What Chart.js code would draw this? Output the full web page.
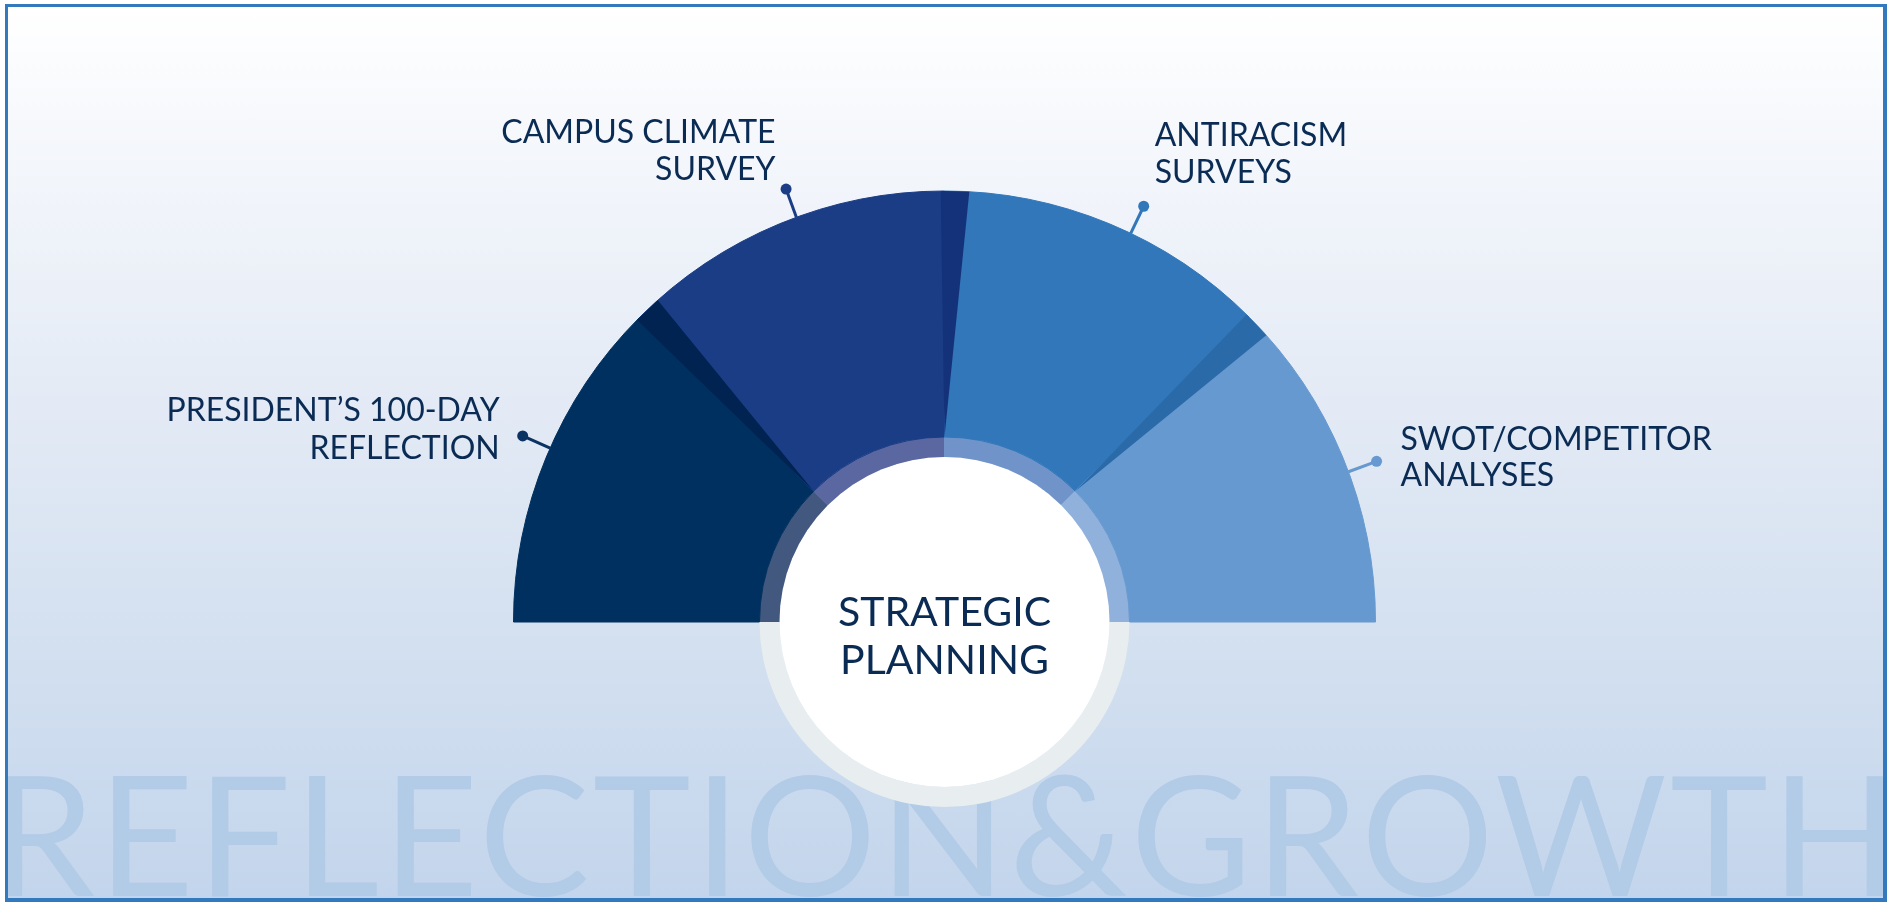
<!DOCTYPE html>
<html>
<head>
<meta charset="utf-8">
<script src="https://cdn.jsdelivr.net/npm/chart.js@4/dist/chart.umd.min.js"></script>
<style>
  html, body { margin: 0; padding: 0; background: #ffffff; overflow: hidden; }
  #wrap { position: relative; width: 1894px; height: 908px; background: #ffffff; }
  #panel {
    position: absolute; left: 5px; top: 4px; width: 1882px; height: 898px;
    box-sizing: border-box; border-style: solid; border-color: #3379BD;
    border-width: 3px 4px 4px 3px; overflow: hidden;
    background: linear-gradient(to bottom, #FFFFFF 0%, #F3F6FB 18%, #E3EAF5 45%, #D3E0F0 72%, #C3D5EC 100%);
  }
  #wm { position: absolute; left: -8px; top: -7px; }
  #c { position: absolute; left: 0; top: 0; }
</style>
</head>
<body>
<div id="wrap">
  <div id="panel">
    <svg id="wm" width="1894" height="908" xmlns="http://www.w3.org/2000/svg">
      <text x="-9" y="896" font-family="Lato" font-weight="400" font-size="166" fill="#B2CBE6"
            textLength="1907" lengthAdjust="spacing">REFLECTION&amp;GROWTH</text>
    </svg>
  </div>
  <canvas id="c" width="1894" height="908"></canvas>
</div>
<script>
// ---- data ----
const categories = ["PRESIDENT’S 100-DAY REFLECTION", "CAMPUS CLIMATE SURVEY", "ANTIRACISM SURVEYS", "SWOT/COMPETITOR ANALYSES"];
const labelLines = [
  ["PRESIDENT’S 100-DAY", "REFLECTION"],
  ["CAMPUS CLIMATE", "SURVEY"],
  ["ANTIRACISM", "SURVEYS"],
  ["SWOT/COMPETITOR", "ANALYSES"]
];
const shares = [25, 25, 25, 25];
const centerLines = ["STRATEGIC", "PLANNING"];

// ---- styles ----
const segColors   = ["#00305F", "#1A3D85", "#3177BA", "#6699D0"];
const ringColors  = ["#42587F", "#5A67A1", "#7094C9", "#90B1DB"];
const shadeColors = ["#002352", "#14327A", "#2A6AA8"];
const leadColors  = ["#0A3262", "#1A3D85", "#3177BA", "#6699D0"];
const TEXT_COLOR = "#0A2B54";
const OUTER_R = 431, RING_OUT = 185, RING_IN = 165;
const SEAM_BEFORE = -0.5 * Math.PI / 180, SEAM_AFTER = 3.3 * Math.PI / 180;
const leadOffsetsDeg = [1.3, 2.4, 3.1, 2.1];
const LEAD_LEN = 30, DOT_R = 5.5;
const labelPlace = [
  { align: "right", dx: -23,   dys: [-15, 22.7] },
  { align: "right", dx: -10.5, dys: [-46.4, -8.7] },
  { align: "left",  dx: 11,    dys: [-60, -23.4] },
  { align: "left",  dx: 24,    dys: [-11.7, 24.3] }
];

const decor = {
  id: "decor",
  afterDatasetsDraw(chart) {
    const ctx = chart.ctx;
    const arcs = chart.getDatasetMeta(0).data;
    const inner = chart.getDatasetMeta(1).data;
    const p0 = arcs[0].getProps(["x", "y", "outerRadius", "innerRadius"], true);
    const cx = p0.x, cy = p0.y, R = p0.outerRadius, r0 = p0.innerRadius;
    const pi = inner[0].getProps(["innerRadius", "outerRadius"], true);
    ctx.save();
    // seam shading
    for (let i = 0; i < arcs.length - 1; i++) {
      const a = arcs[i].getProps(["endAngle"], true).endAngle;
      const a1 = a + SEAM_BEFORE, a2 = a + SEAM_AFTER;
      ctx.beginPath();
      ctx.moveTo(cx + r0 * Math.cos(a), cy + r0 * Math.sin(a));
      ctx.lineTo(cx + R * Math.cos(a1), cy + R * Math.sin(a1));
      ctx.arc(cx, cy, R, a1, a2, false);
      ctx.closePath();
      ctx.fillStyle = shadeColors[i];
      ctx.fill();
    }
    // lower half of the ring
    ctx.beginPath();
    ctx.arc(cx, cy, pi.outerRadius, 0, Math.PI, false);
    ctx.arc(cx, cy, pi.innerRadius, Math.PI, 0, true);
    ctx.closePath();
    ctx.fillStyle = "#E8EEF0";
    ctx.fill();
    // white disc
    ctx.beginPath();
    ctx.arc(cx, cy, pi.innerRadius, 0, Math.PI * 2);
    ctx.fillStyle = "#FFFFFF";
    ctx.fill();
    // center text
    ctx.fillStyle = TEXT_COLOR;
    ctx.font = "400 41px Lato";
    ctx.textAlign = "center";
    ctx.textBaseline = "alphabetic";
    ctx.fillText(centerLines[0], cx, cy + 4);
    ctx.fillText(centerLines[1], cx, cy + 52);
    // leaders and labels
    arcs.forEach((arc, i) => {
      const p = arc.getProps(["startAngle", "endAngle"], true);
      const m = (p.startAngle + p.endAngle) / 2 + leadOffsetsDeg[i] * Math.PI / 180;
      const x1 = cx + R * Math.cos(m), y1 = cy + R * Math.sin(m);
      const x2 = cx + (R + LEAD_LEN) * Math.cos(m), y2 = cy + (R + LEAD_LEN) * Math.sin(m);
      ctx.strokeStyle = leadColors[i];
      ctx.lineWidth = 3;
      ctx.beginPath();
      ctx.moveTo(x1, y1);
      ctx.lineTo(x2, y2);
      ctx.stroke();
      ctx.fillStyle = leadColors[i];
      ctx.beginPath();
      ctx.arc(x2, y2, DOT_R, 0, Math.PI * 2);
      ctx.fill();
      const lp = labelPlace[i];
      ctx.fillStyle = TEXT_COLOR;
      ctx.font = "400 32px Lato";
      ctx.textAlign = lp.align;
      labelLines[i].forEach((t, k) => ctx.fillText(t, x2 + lp.dx, y2 + lp.dys[k]));
    });
    ctx.restore();
  }
};

new Chart(document.getElementById("c"), {
  type: "doughnut",
  data: {
    labels: categories,
    datasets: [
      { data: shares, backgroundColor: segColors, borderColor: segColors, borderWidth: 1, weight: OUTER_R - RING_OUT },
      { data: shares, backgroundColor: ringColors, borderColor: ringColors, borderWidth: 1, weight: RING_OUT - RING_IN }
    ]
  },
  options: {
    responsive: false,
    animation: false,
    events: [],
    rotation: -90,
    circumference: 180,
    radius: OUTER_R,
    cutout: (RING_IN / OUTER_R * 100) + "%",
    layout: { padding: { left: 0, right: 5, top: 0, bottom: 95 } },
    plugins: { legend: { display: false }, tooltip: { enabled: false } }
  },
  plugins: [decor]
});
</script>
</body>
</html>
